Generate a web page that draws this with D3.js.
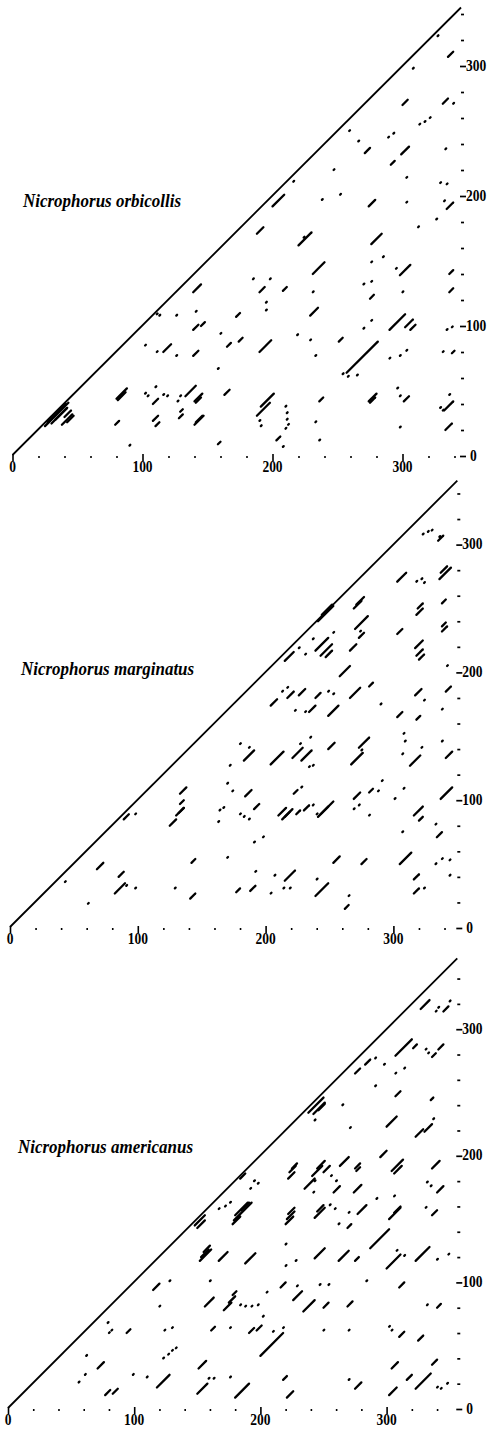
<!doctype html>
<html>
<head>
<meta charset="UTF-8">
<title>Nicrophorus dot plots</title>
<script src="https://d3js.org/d3.v7.min.js"></script>
<style>
  body { margin: 0; background: #fff; }
</style>
</head>
<body>
<svg id="plot" width="488" height="1429"></svg>
<script>
// species and sequence length (residues)
var species = ["Nicrophorus orbicollis", "Nicrophorus marginatus", "Nicrophorus americanus"];
var seqLength = [345, 350, 356];

// tick values
var minorTicks = [0, 20, 40, 60, 80, 100, 120, 140, 160, 180, 200, 220, 240, 260, 280, 300, 320, 340];
var majorTicks = [0, 100, 200, 300];

// matches: [x start, y start, run length] in residues (0 = single dot)
var orbicollis = [
  [327,323,0],[335,307,4],[308,298,0],[331,271,4],[339,271,0],[300,270,4],
  [289,245,0],[293,248,0],[313,255,0],[317,257,0],[321,260,0],
  [259,250,0],[266,242,0],[271,233,4],[299,232,6],[333,236,0],[291,224,3],
  [247,220,0],[303,214,0],[329,210,0],[334,209,0],[216,211,0],
  [252,201,0],[238,197,0],[200,192,9],[274,192,5],[303,195,0],[334,190,5],[332,196,0],
  [326,182,0],[312,176,0],[188,171,5],[220,162,10],[224,168,0],[276,163,8],
  [276,149,0],[285,153,0],[231,140,9],[295,144,0],[298,139,8],[336,140,3],
  [185,136,0],[198,136,0],[139,126,6],[190,126,4],[208,127,3],[231,126,0],
  [270,132,0],[276,134,0],[275,121,3],[300,126,0],[336,126,3],
  [195,118,0],[195,112,0],[229,108,6],[111,109,0],[113,108,0],[126,108,0],[141,111,0],
  [172,107,3],[139,97,4],[145,100,3],[290,97,12],[302,99,6],[306,97,4],[276,104,0],[270,98,0],
  [334,97,0],[338,99,0],[160,94,0],[219,93,0],[229,89,0],[251,88,3],
  [165,84,3],[174,88,3],[190,80,9],[257,64,24],[254,63,0],[258,61,0],[265,62,0],
  [290,75,0],[298,77,0],[303,81,0],[331,80,0],[338,79,2],
  [102,85,0],[111,80,0],[116,80,6],[126,77,0],[139,77,4],[233,77,0],[158,67,0],
  [80,44,8],[81,43,6],[102,48,0],[104,46,0],[110,53,0],[108,40,4],[116,47,0],[119,46,0],
  [127,42,0],[129,46,0],[133,46,8],[140,42,6],[141,41,4],[163,47,4],[188,31,10],[191,38,10],
  [236,42,3],[274,42,6],[275,41,4],[296,52,0],[298,46,0],[301,42,4],
  [329,37,0],[331,35,0],[332,35,7],[336,47,0],
  [25,23,18],[27,26,14],[30,25,12],[33,28,9],[38,24,8],[40,30,5],[42,26,5],
  [108,27,4],[110,23,3],[128,29,3],[129,34,2],[140,24,7],[141,26,5],[79,24,3],
  [190,27,0],[191,23,0],[210,38,0],[211,33,0],[211,28,0],[212,24,0],[210,21,0],
  [233,26,0],[298,22,0],[333,20,5],[203,12,3],[208,7,0],[236,12,0],[90,8,0],[158,9,2]
];

var marginatus = [
  [323,308,0],[327,310,0],[330,311,0],[335,303,4],[336,306,0],[303,271,7],
  [318,271,0],[322,273,0],[324,270,0],[336,273,9],[337,278,5],
  [271,253,6],[269,250,6],[318,245,5],[319,250,4],[338,254,3],
  [241,240,12],[244,245,8],[270,234,10],[273,227,4],[274,232,0],[303,230,4],
  [338,232,4],[338,236,3],[237,226,0],[253,231,0],
  [215,209,7],[226,219,0],[231,214,0],[239,217,10],[243,213,9],[247,212,5],
  [266,217,5],[317,219,6],[318,213,5],[320,210,4],[342,205,0],[258,197,8],[341,185,4],
  [204,174,5],[213,185,0],[217,180,5],[226,182,5],[217,188,0],[223,170,0],[231,169,0],
  [234,169,5],[239,180,4],[249,185,0],[253,183,0],[249,166,8],
  [266,180,8],[281,189,3],[290,175,0],[317,182,5],[324,178,0],[338,171,0],
  [303,165,4],[318,163,3],[308,152,0],[309,146,0],[307,136,0],
  [180,144,0],[187,141,0],[183,131,8],[172,127,0],[204,128,10],
  [221,133,8],[227,144,0],[235,149,0],[228,131,8],[237,127,0],[234,126,0],
  [249,140,5],[267,128,9],[273,141,8],[275,139,0],[313,127,8],[322,141,0],
  [338,146,0],[341,133,5],
  [133,105,5],[133,97,3],[132,90,4],[130,88,6],[125,80,5],
  [89,85,4],[98,89,0],[164,92,0],[167,94,0],[163,83,0],[170,113,0],[174,107,0],
  [184,103,5],[180,89,0],[183,87,0],[187,85,0],[191,93,4],[222,105,3],[228,110,0],
  [210,88,6],[213,85,6],[215,87,6],[224,89,3],[230,92,4],[237,96,0],[240,89,0],
  [241,87,12],[243,89,6],[269,101,5],[281,106,3],[288,107,0],[291,115,0],
  [269,93,0],[273,96,0],[281,88,0],[301,101,0],[308,109,0],
  [316,88,7],[320,84,3],[337,101,9],[333,81,0],[334,71,4],
  [191,67,0],[198,71,0],[307,75,0],[253,51,5],[275,50,4],[305,50,9],
  [333,50,0],[338,54,0],[344,53,0],[142,51,3],[170,55,0],[68,46,5],
  [85,40,4],[82,27,8],[91,33,0],[98,31,0],[215,37,8],[207,41,0],[214,31,0],[219,31,0],
  [239,25,10],[240,38,0],[316,38,4],[316,27,4],[324,31,0],[344,41,0],
  [192,44,0],[177,28,3],[188,29,4],[204,27,0],[129,31,0],[141,23,4],
  [43,36,0],[61,19,0],[262,15,3],[265,25,0]
];

var americanus = [
  [327,316,7],[339,314,0],[341,317,0],[345,314,4],[350,322,0],
  [307,279,13],[321,285,3],[331,284,0],[333,281,0],[336,278,3],[341,284,4],
  [291,277,0],[283,272,4],[275,265,4],[298,272,0],[307,265,0],[314,269,0],[291,255,0],
  [307,247,4],[335,244,2],
  [238,234,12],[242,233,9],[246,236,5],[265,240,0],[243,228,0],[271,222,0],
  [300,223,8],[323,215,6],[330,219,6],[337,229,0],
  [295,199,5],[304,188,9],[306,186,6],[336,190,6],[263,192,7],[275,190,4],[276,188,3],
  [241,184,8],[245,190,6],[250,187,5],[256,184,0],[260,180,0],[243,180,0],
  [235,174,8],[242,171,0],[222,182,5],[223,187,5],[225,190,4],
  [184,182,4],[192,174,0],[198,178,0],[195,180,0],
  [332,179,0],[335,176,0],[340,171,5],[258,171,5],[274,171,6],
  [331,159,0],[336,153,4],[306,155,5],[302,150,9],[277,154,7],[292,166,0],[306,168,0],
  [243,151,8],[245,156,5],[255,161,0],[259,158,0],[270,155,0],
  [179,149,14],[180,153,10],[185,157,6],[178,146,6],[167,158,0],[176,163,0],[172,160,0],
  [220,146,6],[221,150,6],[222,154,5],[148,145,8],[150,143,6],
  [262,146,0],[269,143,3],[287,127,15],[220,130,0],
  [152,117,9],[153,120,6],[155,124,5],[167,117,7],[188,115,8],
  [243,119,8],[262,117,8],[275,117,3],[300,111,11],[308,125,0],[314,121,0],
  [323,117,11],[340,118,0],[349,122,0],[228,117,0],[220,113,0],
  [115,94,5],[128,101,0],[160,101,0],[216,96,4],[229,97,0],[247,98,0],[254,98,0],
  [284,101,0],[310,96,4],[205,92,0],[226,86,7],[234,77,9],[250,80,4],[269,81,4],
  [156,81,7],[171,78,6],[175,84,5],[178,90,3],[184,82,0],[188,81,0],[193,81,0],[198,82,0],
  [120,81,0],[202,73,0],[332,82,0],[340,80,3],
  [79,68,0],[82,62,0],[80,60,0],[94,60,3],[124,62,0],[130,64,0],
  [161,62,3],[176,64,0],[191,60,4],[197,62,4],[210,61,0],[218,64,0],[250,62,0],[270,62,0],
  [200,42,18],[302,65,0],[304,62,0],[310,57,4],[325,54,4],
  [123,40,0],[127,43,0],[130,46,0],[133,48,0],[62,42,0],
  [151,32,6],[71,32,5],[304,32,5],[336,35,4],
  [56,21,0],[61,27,0],[99,27,0],[110,25,0],[118,17,10],
  [159,24,0],[163,24,0],[176,25,0],[218,23,3],[270,23,0],[275,16,5],
  [316,23,4],[323,16,12],[340,17,0],[343,16,0],[348,20,0],
  [150,12,8],[180,9,11],[221,9,5],[77,11,4],[83,12,4],[302,11,6]
];

var matches = [orbicollis, marginatus, americanus];

// panel placement in pixels
var panelLeft = [12.5, 10, 8];
var panelBase = [456, 928, 1409];
var xPx = [1.3, 1.278, 1.262];
var yPx = [1.3, 1.278, 1.266];
var titleAt = [[23, 207], [21, 675], [18, 1153]];

var serif = "'Liberation Serif', 'Times New Roman', serif";
var svg = d3.select("#plot");

function isMajor(d) { return majorTicks.indexOf(d) >= 0; }

for (var p = 0; p < 3; p++) {
  var L = seqLength[p];
  var x = d3.scaleLinear().domain([0, L]).range([panelLeft[p], panelLeft[p] + L * xPx[p]]);
  var y = d3.scaleLinear().domain([0, L]).range([panelBase[p], panelBase[p] - L * yPx[p]]);
  var g = svg.append("g");

  // identity diagonal
  g.append("line")
    .attr("x1", x(0)).attr("y1", y(0) - 1)
    .attr("x2", x(L)).attr("y2", y(L))
    .attr("stroke", "black").attr("stroke-width", 1.8);

  // match runs, parallel to the diagonal
  g.selectAll(".m")
    .data(matches[p])
    .enter()
    .append("line")
    .attr("class", "m")
    .attr("x1", function(d){ return x(d[0]); })
    .attr("y1", function(d){ return y(d[1]); })
    .attr("x2", function(d){ return x(d[0] + Math.max(d[2], 0.6)); })
    .attr("y2", function(d){ return y(d[1] + Math.max(d[2], 0.6)); })
    .attr("stroke", "black")
    .attr("stroke-width", 2.3)
    .attr("stroke-linecap", "round");

  // bottom axis: ticks only, labels drawn below
  var gx = g.append("g")
    .attr("transform", "translate(0," + y(0) + ")")
    .call(d3.axisBottom(x).tickValues(minorTicks).tickSize(2).tickFormat(""));
  gx.select(".domain").remove();
  gx.selectAll(".tick line")
    .attr("stroke-width", 1.6)
    .attr("y1", function(d){ return isMajor(d) ? -2 : 0; })
    .attr("y2", function(d){ return isMajor(d) ? 5 : 2; });

  g.selectAll(".xl")
    .data(majorTicks)
    .enter()
    .append("text")
    .attr("class", "xl")
    .attr("text-anchor", "middle")
    .attr("transform", function(d){ return "translate(" + x(d) + "," + (y(0) + 16) + ") scale(1,1.3)"; })
    .style("font-family", serif).style("font-weight", "bold").style("font-size", "13.5px")
    .text(function(d){ return d; });

  // right axis
  var gy = g.append("g")
    .attr("transform", "translate(" + x(L) + ",0)")
    .call(d3.axisRight(y).tickValues(minorTicks).tickSize(3).tickFormat(""));
  gy.select(".domain").remove();
  gy.selectAll(".tick line")
    .attr("stroke-width", 1.7)
    .attr("x1", function(d){ return isMajor(d) ? -1 : 0; })
    .attr("x2", function(d){ return isMajor(d) ? 5 : 3; });

  g.selectAll(".yl")
    .data(majorTicks)
    .enter()
    .append("text")
    .attr("class", "yl")
    .attr("transform", function(d){ return "translate(" + (x(L) + (d === 0 ? 9 : 5)) + "," + (y(d) + 4.5) + ") scale(1,1.3)"; })
    .style("font-family", serif).style("font-weight", "bold").style("font-size", "13.5px")
    .text(function(d){ return d; });

  // species name
  g.append("text")
    .attr("transform", "translate(" + titleAt[p][0] + "," + titleAt[p][1] + ") scale(1,1.15)")
    .style("font-family", serif).style("font-weight", "bold").style("font-style", "italic")
    .style("font-size", "17px")
    .text(species[p]);
}
</script>
</body>
</html>
